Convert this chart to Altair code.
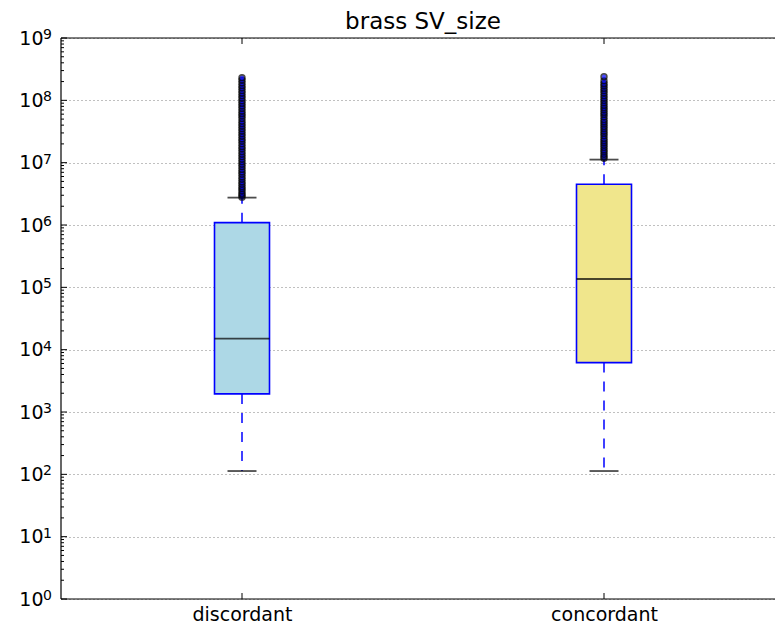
import altair as alt
import pandas as pd

# ---- data ----
categories = ["discordant", "concordant"]
box_colors = ["#add8e6", "#f0e68c"]
q1 = [1.95e3, 6.2e3]
median = [1.5e4, 1.36e5]
q3 = [1.09e6, 4.5e6]
whisker_low = [113, 113]
whisker_high = [2.75e6, 1.12e7]

outliers_discordant = [2.8e6, 3.0e6, 3.2e6, 3.5e6, 3.8e6, 4.1e6, 4.5e6, 4.9e6, 5.4e6, 5.9e6,
                       6.5e6, 7.1e6, 7.8e6, 8.6e6, 9.4e6, 1.03e7, 1.13e7, 1.24e7, 1.36e7, 1.5e7,
                       1.65e7, 1.8e7, 2.0e7, 2.2e7, 2.4e7, 2.65e7, 2.9e7, 3.2e7, 3.5e7, 3.85e7,
                       4.2e7, 4.6e7, 5.1e7, 5.6e7, 6.1e7, 6.7e7, 7.4e7, 8.1e7, 8.9e7, 9.8e7,
                       1.08e8, 1.18e8, 1.3e8, 1.43e8, 1.57e8, 1.72e8, 1.9e8, 2.1e8, 2.3e8]
outliers_concordant = [1.18e7, 1.26e7, 1.36e7, 1.48e7, 1.6e7, 1.75e7, 1.9e7, 2.07e7, 2.25e7,
                       2.45e7, 2.7e7, 2.95e7, 3.2e7, 3.5e7, 3.8e7, 4.15e7, 4.5e7, 4.9e7, 5.4e7,
                       5.9e7, 6.4e7, 7.0e7, 7.6e7, 8.3e7, 9.1e7, 9.9e7, 1.08e8, 1.18e8, 1.3e8,
                       1.42e8, 1.55e8, 1.7e8, 1.85e8, 2.05e8, 2.4e8]

exponents = list(range(0, 10))
major_ticks = [10 ** k for k in exponents]
minor_ticks = [m * 10 ** k for k in range(0, 9) for m in range(2, 10)]

W, H = 714, 561          # visible plot area (the reference's right spine lies just off-canvas)
FULL_W = 724             # full axes width in the reference
FONT = "DejaVu Sans"

stats = pd.DataFrame({
    "cat": categories, "q1": q1, "median": median, "q3": q3,
    "wlo": whisker_low, "whi": whisker_high,
})
fliers = pd.DataFrame({
    "cat": ["discordant"] * len(outliers_discordant) + ["concordant"] * len(outliers_concordant),
    "v": outliers_discordant + outliers_concordant,
})
minor_df = pd.DataFrame({"v": minor_ticks})
major_df = pd.DataFrame({"v": major_ticks, "e": [str(k) for k in exponents]})
cat_df = pd.DataFrame({"cat": categories})
one = pd.DataFrame({"f": [0]})

yscale = alt.Scale(type="log", domain=[1, 1e9], nice=False)
xscale = alt.Scale(type="point", domain=categories, range=[0, FULL_W], padding=0.5)

x_enc = alt.X("cat:N", scale=xscale, sort=categories, title=None,
              axis=alt.Axis(labelAngle=0, labelFontSize=19, labelFont=FONT, labelColor="black",
                            ticks=False, domain=False, grid=False, labelPadding=6))
y_axis = alt.Axis(values=major_ticks, labelExpr="'10'",
                  ticks=False, domain=False, grid=True, gridDash=[1, 3], gridColor="#808080",
                  gridWidth=1, labelFontSize=19, labelFont=FONT, labelColor="black",
                  labelPadding=18, labelOverlap=False, labelFlush=False)

base = alt.Chart(stats)

whisk_lo = base.mark_rule(color="#0000ff", strokeWidth=1.5, strokeDash=[10, 9]).encode(
    x=x_enc, y=alt.Y("q1:Q", scale=yscale, axis=y_axis, title=None), y2="wlo:Q")
whisk_hi = base.mark_rule(color="#0000ff", strokeWidth=1.5, strokeDash=[10, 9]).encode(
    x=x_enc, y=alt.Y("q3:Q", scale=yscale), y2="whi:Q")
box = base.mark_bar(size=55, stroke="#0000ff", strokeWidth=1.6, opacity=1).encode(
    x=x_enc, y=alt.Y("q1:Q", scale=yscale), y2="q3:Q",
    color=alt.Color("cat:N", scale=alt.Scale(domain=categories, range=box_colors), legend=None))
med = base.mark_tick(size=55, thickness=1.8, color="black", orient="horizontal").encode(
    x=x_enc, y=alt.Y("median:Q", scale=yscale))
cap_lo = base.mark_tick(size=29, thickness=1.8, color="black", orient="horizontal").encode(
    x=x_enc, y=alt.Y("wlo:Q", scale=yscale))
cap_hi = base.mark_tick(size=29, thickness=1.8, color="black", orient="horizontal").encode(
    x=x_enc, y=alt.Y("whi:Q", scale=yscale))
fl = alt.Chart(fliers).mark_point(shape="circle", filled=True, fill="#0000ff", stroke="black",
                                  strokeWidth=1.6, size=34, opacity=0.7).encode(
    x=x_enc, y=alt.Y("v:Q", scale=yscale))

# exponent superscripts of the y tick labels
exps = alt.Chart(major_df).mark_text(font=FONT, fontSize=14, color="black", align="left",
                                     baseline="alphabetic", dy=1).encode(
    y=alt.Y("v:Q", scale=yscale), x=alt.value(-18), text="e:N")

# frame (left, top, bottom spines)
spine_l = alt.Chart(one).mark_rule(color="black", strokeWidth=1.2).encode(
    x=alt.value(0), y=alt.value(0), y2=alt.value(H))
spine_t = alt.Chart(one).mark_rule(color="black", strokeWidth=1.2).encode(
    x=alt.value(0), x2=alt.value(FULL_W), y=alt.value(0))
spine_b = alt.Chart(one).mark_rule(color="black", strokeWidth=1.2).encode(
    x=alt.value(0), x2=alt.value(FULL_W), y=alt.value(H))

# inward ticks (matplotlib classic style)
minor_l = alt.Chart(minor_df).mark_rule(color="black", strokeWidth=1).encode(
    y=alt.Y("v:Q", scale=yscale), x=alt.value(0), x2=alt.value(3))
major_l = alt.Chart(major_df).mark_rule(color="black", strokeWidth=1).encode(
    y=alt.Y("v:Q", scale=yscale), x=alt.value(0), x2=alt.value(6))
xt_bot = alt.Chart(cat_df).mark_rule(color="black", strokeWidth=1).encode(
    x=x_enc, y=alt.value(H - 6), y2=alt.value(H))
xt_top = alt.Chart(cat_df).mark_rule(color="black", strokeWidth=1).encode(
    x=x_enc, y=alt.value(0), y2=alt.value(6))

chart = alt.layer(
    whisk_lo, whisk_hi, box, med, cap_lo, cap_hi, fl, exps,
    minor_l, major_l, xt_bot, xt_top, spine_l, spine_t, spine_b,
).properties(
    width=W, height=H,
    title=alt.TitleParams("brass SV_size", fontSize=23, font=FONT, fontWeight="normal",
                          color="black", anchor="middle", frame="group",
                          offset=4, dx=(FULL_W - W) / 2, dy=10),
    padding={"left": 53, "top": 30, "right": 0, "bottom": 28},
    autosize=alt.AutoSizeParams(type="none"),
).configure_view(stroke=None)

chart.save("out.html", embed_options={"renderer": "svg", "actions": False})
